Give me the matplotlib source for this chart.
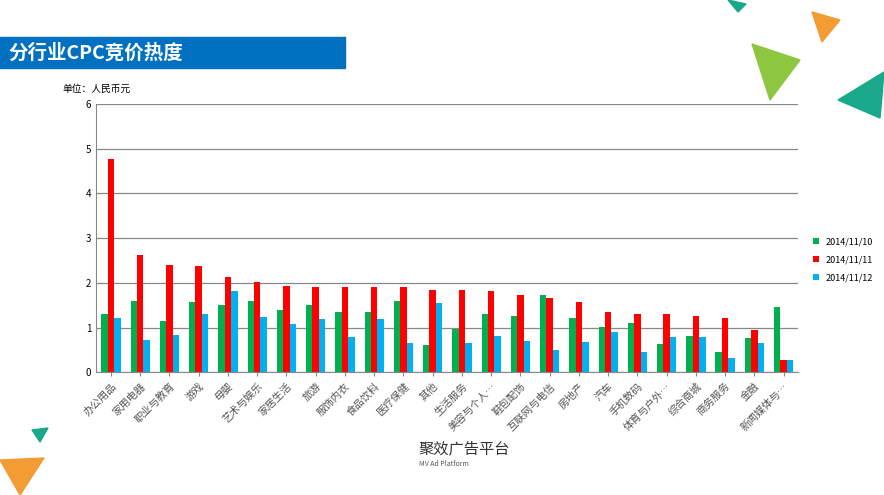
import matplotlib.pyplot as plt
import numpy as np
from matplotlib.patches import Rectangle, Polygon

plt.rcParams['font.family'] = ['Noto Sans CJK SC', 'DejaVu Sans']

categories = ["办公用品", "家用电器", "职业与教育", "游戏", "母婴", "艺术与娱乐", "家居生活",
              "旅游", "服饰内衣", "食品饮料", "医疗保健", "其他", "生活服务", "美容与个人…",
              "鞋包配饰", "互联网与电信", "房地产", "汽车", "手机数码", "体育与户外…",
              "综合商城", "商务服务", "金融", "新闻媒体与…"]
s_1110 = [1.30, 1.59, 1.14, 1.57, 1.50, 1.59, 1.39, 1.50, 1.34, 1.34, 1.59, 0.61,
          0.96, 1.30, 1.25, 1.72, 1.21, 1.01, 1.10, 0.63, 0.81, 0.45, 0.76, 1.45]
s_1111 = [4.77, 2.63, 2.39, 2.37, 2.14, 2.01, 1.92, 1.90, 1.90, 1.90, 1.90, 1.85,
          1.83, 1.81, 1.72, 1.65, 1.56, 1.34, 1.30, 1.30, 1.25, 1.21, 0.94, 0.27]
s_1112 = [1.21, 0.72, 0.83, 1.30, 1.81, 1.23, 1.07, 1.19, 0.79, 1.19, 0.65, 1.55,
          0.65, 0.81, 0.70, 0.50, 0.67, 0.90, 0.45, 0.79, 0.79, 0.32, 0.65, 0.27]
series_names = ["2014/11/10", "2014/11/11", "2014/11/12"]
colors = ["#00b050", "#ff0000", "#00b0f0"]

fig = plt.figure(figsize=(8.84, 4.95), dpi=100)
ax = fig.add_axes([0.109, 0.248, 0.794, 0.542])

x = np.arange(len(categories))
w = 0.22
for i, (vals, name) in enumerate(zip([s_1110, s_1111, s_1112], series_names)):
    ax.bar(x + (i - 1) * w, vals, width=w, color=colors[i], label=name)

ax.set_xlim(-0.5, len(categories) - 0.5)
ax.set_ylim(0, 6)
ax.set_yticks(range(7))
ax.yaxis.grid(True, color="#888888", linewidth=0.9)
ax.set_axisbelow(True)
ax.set_xticks(x)
ax.set_xticklabels(categories, rotation=45, ha="right", rotation_mode="anchor",
                   fontsize=7.5, color="#555555")
ax.tick_params(axis="y", labelsize=7, length=0)
ax.tick_params(axis="x", length=3, color="#888888")
for sp in ["top", "right"]:
    ax.spines[sp].set_visible(False)
ax.spines["left"].set_color("#888888")
ax.spines["bottom"].set_color("#888888")
ax.legend(loc="center left", bbox_to_anchor=(1.01, 0.42), frameon=False,
          fontsize=6.5, handlelength=0.6, handleheight=0.6, labelspacing=1.0)

# banner and annotations
fig.patches.append(Rectangle((0, 1 - 68 / 495), 345 / 884, 31 / 495,
                             transform=fig.transFigure, color="#0070c0"))
fig.text(8 / 884, 1 - 53 / 495, "分行业CPC竞价热度", color="white", fontsize=14,
         fontweight="bold", va="center")
fig.text(62 / 884, 1 - 89 / 495, "单位：人民币元", fontsize=7, va="center")
fig.text(418 / 884, 1 - 449 / 495, "聚效广告平台", fontsize=11, va="center",
         color="#333333")
fig.text(419 / 884, 1 - 464 / 495, "MV Ad Platform", fontsize=5, va="center",
         color="#555555")

# decorative triangles
tris = [
    ([(812, 12), (840, 20), (822, 42)], "#f39c33"),
    ([(752, 44), (800, 60), (770, 100)], "#8dc63f"),
    ([(838, 100), (884, 72), (880, 118)], "#1aa88a"),
    ([(728, 0), (746, 4), (738, 12)], "#1aa88a"),
    ([(0, 460), (44, 458), (20, 495)], "#f39c33"),
    ([(32, 430), (48, 428), (40, 442)], "#1aa88a"),
]
for pts, c in tris:
    fig.patches.append(Polygon([(px / 884, 1 - py / 495) for px, py in pts],
                               closed=True, transform=fig.transFigure, color=c))

fig.savefig("out.png", dpi=100)
